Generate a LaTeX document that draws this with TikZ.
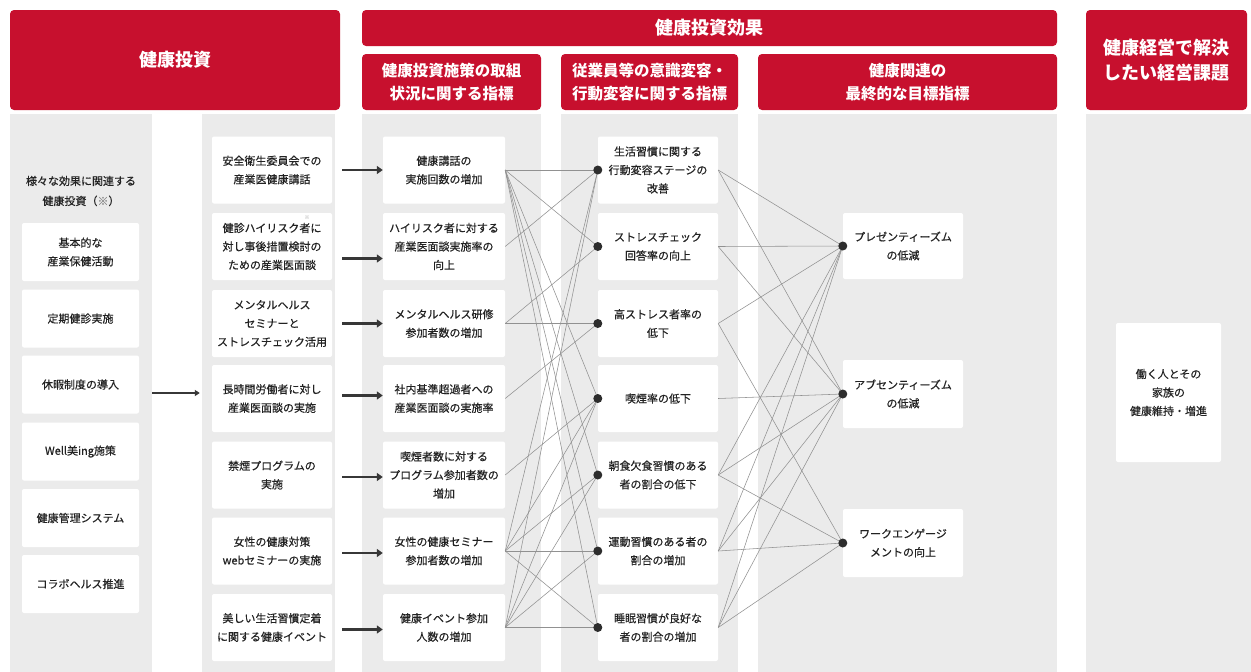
\documentclass[tikz,border=0pt]{standalone}
\usepackage{fontspec}
\newfontfamily\jp[FakeBold=0.45]{Noto Sans CJK JP}
\newfontfamily\jph{Noto Sans CJK JP}
\usetikzlibrary{arrows.meta}
\definecolor{hred}{RGB}{199,16,46}
\definecolor{colgray}{RGB}{235,235,235}
\definecolor{txt}{RGB}{34,34,34}
\definecolor{linkgray}{RGB}{145,145,145}
\definecolor{dotc}{RGB}{45,45,45}
\definecolor{arrc}{RGB}{55,55,55}
\begin{document}
\begin{tikzpicture}[x=1pt,y=-1pt,
  hdr/.style={fill=hred, rounded corners=4pt, text=white, align=center, inner sep=0pt, font=\jph\bfseries\fontsize{15.5}{23}\selectfont},
  bighdr/.style={hdr, font=\jph\bfseries\fontsize{18}{25}\selectfont},
  colbg/.style={fill=colgray, inner sep=0pt, minimum width=#1, minimum height=558pt},
  wb/.style={fill=white, rounded corners=2pt, align=center, inner sep=0pt, text=txt, font=\jp\fontsize{11}{18.5}\selectfont},
  boxa/.style={wb, minimum width=117pt, minimum height=58pt},
  boxb/.style={wb, minimum width=120pt, minimum height=67pt},
  boxc/.style={wb, minimum width=122pt, minimum height=67pt},
  boxe/.style={wb, minimum width=120pt, minimum height=67pt},
  dotn/.style={circle, fill=dotc, inner sep=0pt, minimum size=9pt},
  lnk/.style={draw=linkgray, line width=0.55pt},
  thk/.style={draw=arrc, line width=2.6pt, -{Triangle[length=6pt,width=8pt]}},
  thin/.style={draw=arrc, line width=1.6pt, -{Triangle[length=5pt,width=6pt]}},
]
\useasboundingbox (0,0) rectangle (1251,672);
\fill[white] (0,0) rectangle (1251,672);

% column backgrounds
\node[colbg=142pt] (g1) at (81,393) {};
\node[colbg=133pt] (g2) at (268.5,393) {};
\node[colbg=179pt] (g3) at (451.5,393) {};
\node[colbg=177pt] (g4) at (649.5,393) {};
\node[colbg=299pt] (g5) at (907.5,393) {};
\node[colbg=165pt] (g6) at (1168.5,393) {};

% headers
\node[bighdr, minimum width=330pt, minimum height=100pt] (h1) at (175,60) {健康投資};
\node[bighdr, minimum width=695pt, minimum height=36pt] (h2) at (709.5,28) {健康投資効果};
\node[hdr, minimum width=179pt, minimum height=56pt] (h3) at (451.5,82) {健康投資施策の取組\\状況に関する指標};
\node[hdr, minimum width=177pt, minimum height=56pt] (h4) at (649.5,82) {従業員等の意識変容・\\行動変容に関する指標};
\node[hdr, minimum width=299pt, minimum height=56pt] (h5) at (907.5,82) {健康関連の\\最終的な目標指標};
\node[bighdr, minimum width=161pt, minimum height=100pt] (h6) at (1166.5,60) {健康経営で解決\\したい経営課題};

% column 1
\node[text=txt, align=center, font=\jp\fontsize{11}{20}\selectfont] (lab1) at (81,191) {様々な効果に関連する\\健康投資（\textcolor{linkgray}{※}）};
\node[boxa] (a1) at (80.5,252) {基本的な\\産業保健活動};
\node[boxa] (a2) at (80.5,318.5) {定期健診実施};
\node[boxa] (a3) at (80.5,384.5) {休暇制度の導入};
\node[boxa] (a4) at (80.5,451.5) {Well美ing施策};
\node[boxa] (a5) at (80.5,518) {健康管理システム};
\node[boxa] (a6) at (80.5,584) {コラボヘルス推進};

% column 2
\node[boxb] (b1) at (272,170) {安全衛生委員会での\\産業医健康講話};
\node[boxb] (b2) at (272,246.5) {健診ハイリスク者に\\対し事後措置検討の\\ための産業医面談};
\node[text=linkgray, font=\jph\fontsize{5}{5}\selectfont] (b2n) at (307,218) {※};
\node[boxb] (b3) at (272,323.5) {メンタルヘルス\\セミナーと\\ストレスチェック活用};
\node[boxb] (b4) at (272,398.5) {長時間労働者に対し\\産業医面談の実施};
\node[boxb] (b5) at (272,475) {禁煙プログラムの\\実施};
\node[boxb] (b6) at (272,551) {女性の健康対策\\webセミナーの実施};
\node[boxb] (b7) at (272,627.5) {美しい生活習慣定着\\に関する健康イベント};

% column 3
\node[boxc] (c1) at (444,170) {健康講話の\\実施回数の増加};
\node[boxc] (c2) at (444,246.5) {ハイリスク者に対する\\産業医面談実施率の\\向上};
\node[boxc] (c3) at (444,323.5) {メンタルヘルス研修\\参加者数の増加};
\node[boxc] (c4) at (444,398.5) {社内基準超過者への\\産業医面談の実施率};
\node[boxc] (c5) at (444,475) {喫煙者数に対する\\プログラム参加者数の\\増加};
\node[boxc] (c6) at (444,551) {女性の健康セミナー\\参加者数の増加};
\node[boxc] (c7) at (444,627.5) {健康イベント参加\\人数の増加};

% column 4
\node[boxe] (e1) at (658,170) {生活習慣に関する\\行動変容ステージの\\改善};
\node[boxe] (e2) at (658,246.5) {ストレスチェック\\回答率の向上};
\node[boxe] (e3) at (658,323.5) {高ストレス者率の\\低下};
\node[boxe] (e4) at (658,398.5) {喫煙率の低下};
\node[boxe] (e5) at (658,475) {朝食欠食習慣のある\\者の割合の低下};
\node[boxe] (e6) at (658,551) {運動習慣のある者の\\割合の増加};
\node[boxe] (e7) at (658,627.5) {睡眠習慣が良好な\\者の割合の増加};

% column 5
\node[boxe, minimum height=66pt] (f1) at (903,246) {プレゼンティーズム\\の低減};
\node[boxe, minimum height=68pt] (f2) at (903,394) {アブセンティーズム\\の低減};
\node[boxe, minimum height=68pt] (f3) at (903,543) {ワークエンゲージ\\メントの向上};

% column 6
\node[wb, minimum width=105pt, minimum height=139pt] (k1) at (1168.5,392.5) {働く人とその\\家族の\\健康維持・増進};

% arrows
\draw[thin, shorten >=2pt] (g1.east) -- (g2.west);
\draw[thk] ([xshift=10pt]b1.east) -- (c1.west);
\draw[thk] ([xshift=10pt,yshift=-12pt]b2.east) -- ([yshift=-12pt]c2.west);
\draw[thk] ([xshift=10pt]b3.east) -- (c3.west);
\draw[thk] ([xshift=10pt,yshift=3pt]b4.east) -- ([yshift=3pt]c4.west);
\draw[thk] ([xshift=10pt,yshift=-2pt]b5.east) -- ([yshift=-2pt]c5.west);
\draw[thk] ([xshift=10pt,yshift=-2pt]b6.east) -- ([yshift=-2pt]c6.west);
\draw[thk] ([xshift=10pt,yshift=-2pt]b7.east) -- ([yshift=-2pt]c7.west);

% dot positions
\foreach \i in {1,...,7} { \coordinate (p\i) at (e\i.west); }
\foreach \i in {1,2,3} { \coordinate (q\i) at (f\i.west); }

% links col3 -> col4
\foreach \s/\t in {1/1,1/2,1/4,1/5,1/6,1/7,2/1,3/2,3/3,4/3,5/4,6/1,6/4,6/5,6/6,6/7,7/1,7/4,7/5,7/6,7/7}
  { \draw[lnk] (c\s.east) -- (p\t); }
% links col4 -> col5
\foreach \s/\t in {1/1,1/2,2/1,2/2,3/1,3/3,4/2,5/1,5/2,5/3,6/1,6/2,6/3,7/1,7/2,7/3}
  { \draw[lnk] (e\s.east) -- (q\t); }

\foreach \i in {1,...,7} { \node[dotn] (d\i) at (p\i) {}; }
\foreach \i in {1,2,3} { \node[dotn] (dd\i) at (q\i) {}; }
\end{tikzpicture}
\end{document}
